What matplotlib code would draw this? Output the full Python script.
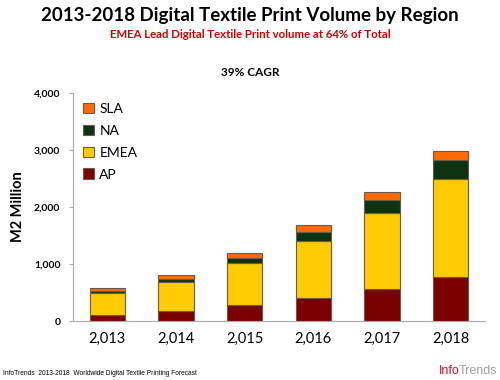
import matplotlib.pyplot as plt
import numpy as np

years = ['2,013', '2,014', '2,015', '2,016', '2,017', '2,018']
ap = [110, 170, 275, 403, 567, 778]
emea = [376, 514, 742, 1000, 1328, 1719]
na = [46, 58, 88, 164, 234, 328]
sla = [42, 59, 93, 111, 128, 157]

colors = {'AP': '#7b0000', 'EMEA': '#ffcc00', 'NA': '#0e3312', 'SLA': '#ff6a00'}

plt.rcParams['font.family'] = ['Lato', 'DejaVu Sans']

fig = plt.figure(figsize=(5, 3.8), dpi=100)
ax = fig.add_axes([0.146, 0.155, 0.824, 0.6])

x = np.arange(len(years))
bottom = np.zeros(len(years))
handles = []
for name, vals in [('AP', ap), ('EMEA', emea), ('NA', na), ('SLA', sla)]:
    b = ax.bar(x, vals, 0.51, bottom=bottom, color=colors[name],
               edgecolor='#6b5a4a', linewidth=0.8, label=name)
    handles.append(b)
    bottom += np.array(vals)

ax.set_xlim(-0.5, 5.5)
ax.set_ylim(0, 4000)
ax.set_yticks([0, 1000, 2000, 3000, 4000])
ax.set_yticklabels(['0', '1,000', '2,000', '3,000', '4,000'], fontsize=7.5, fontweight='bold')
ax.set_xticks(x)
ax.set_xticklabels(years, fontsize=10.5)
ax.tick_params(axis='x', length=0, pad=8)
ax.tick_params(axis='y', length=3, color='#aaaaaa', pad=6)
for s in ['top', 'right']:
    ax.spines[s].set_visible(False)
for s in ['left', 'bottom']:
    ax.spines[s].set_color('#aaaaaa')
ax.set_ylabel('M2 Million', fontsize=10.5, fontweight='bold')
ax.yaxis.set_label_coords(-0.117, 0.5)

ax.legend(handles[::-1], ['SLA', 'NA', 'EMEA', 'AP'], loc='upper left',
          frameon=False, fontsize=10, handlelength=0.8, handleheight=0.8,
          labelspacing=0.7, handletextpad=0.4, borderaxespad=0.3,
          bbox_to_anchor=(0.0, 1.0))

fig.text(0.5, 0.96, '2013-2018 Digital Textile Print Volume by Region',
         ha='center', va='center', fontsize=13.5, fontweight='bold')
fig.text(0.5, 0.908, 'EMEA Lead Digital Textile Print volume at 64% of Total',
         ha='center', va='center', fontsize=8.2, fontweight='bold', color='#d00000')
fig.text(0.5, 0.81, '39% CAGR', ha='center', va='center', fontsize=8.5, fontweight='bold')

fig.text(0.006, 0.018, 'InfoTrends  2013-2018  Worldwide Digital Textile Printing Forecast',
         ha='left', va='center', fontsize=4.8, family='Liberation Sans')
fig.text(0.878, 0.025, 'Info', ha='left', va='center', fontsize=9, color='#c8102e',
         family='Liberation Sans')
fig.text(0.917, 0.025, 'Trends', ha='left', va='center', fontsize=9, color='#a0a0a0',
         family='Liberation Sans')

fig.savefig('out.png', dpi=100)
